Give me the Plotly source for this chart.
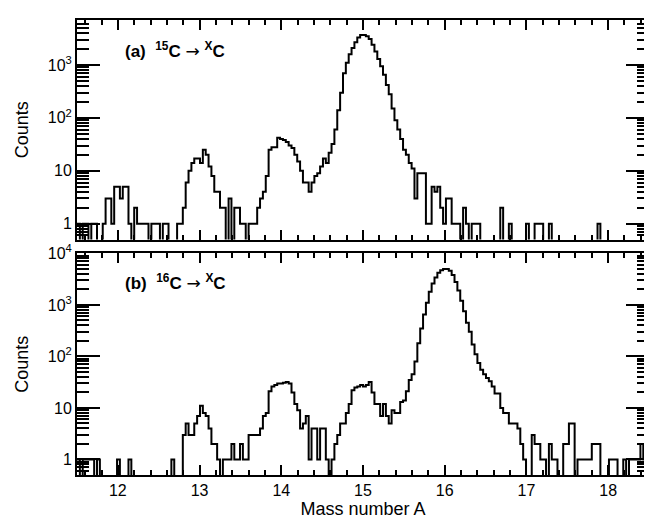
import numpy as np
import plotly.graph_objects as go

# ---- data ----
BIN_START = 11.5
BIN_WIDTH = 0.035

counts_a = [
    1, 0, 1, 1, 0, 1, 1, 0, 0, 1,
    3, 3, 1, 5, 5, 3, 5, 5, 1, 0,
    2, 1, 1, 1, 1, 0, 1, 1, 1, 0,
    1, 1, 0, 0, 0, 1, 1, 2, 6, 10,
    14, 17, 17, 14, 25, 20, 12, 8, 4, 4,
    2, 2, 0, 3, 0, 2, 2, 1, 1, 0,
    1, 1, 1, 2, 3, 4, 8, 25, 28, 28,
    42, 40, 38, 35, 30, 27, 20, 15, 10, 6,
    6, 4, 6, 8, 9, 12, 17, 14, 22, 32,
    60, 140, 300, 700, 1100, 1600, 2100, 2700, 3300, 3700,
    3700, 3500, 3100, 2400, 1800, 1300, 950, 650, 420, 280,
    150, 90, 60, 40, 25, 20, 14, 11, 3, 9,
    9, 9, 1, 1, 5, 4, 5, 2, 1, 3,
    3, 1, 1, 1, 0, 2, 1, 0, 1, 1,
    1, 0, 0, 0, 0, 0, 0, 0, 2, 0,
    0, 1, 0, 0, 0, 0, 0, 1, 0, 0,
    1, 1, 1, 0, 0, 1, 0, 0, 0, 0,
    0, 0, 0, 0, 0, 0, 0, 0, 0, 0,
    0, 0, 1, 0, 0, 0, 0, 0, 0, 0,
    0, 0, 0, 0, 0, 0, 0, 0, 0, 0,
]

counts_b = [
    1, 0, 1, 1, 1, 1, 0, 1, 0, 0,
    0, 0, 0, 0, 1, 0, 0, 0, 1, 0,
    0, 0, 0, 0, 0, 0, 0, 0, 0, 0,
    0, 0, 0, 1, 0, 0, 0, 3, 5, 3,
    3, 5, 7, 11, 8, 7, 4, 2, 2, 1,
    0, 1, 1, 1, 2, 1, 1, 2, 1, 1,
    3, 3, 3, 3, 4, 7, 8, 21, 26, 28,
    30, 30, 31, 32, 30, 20, 12, 9, 4, 5,
    7, 1, 4, 4, 1, 4, 4, 1, 0, 1,
    2, 3, 5, 5, 8, 12, 22, 25, 26, 28,
    26, 28, 32, 20, 12, 12, 7, 12, 7, 5,
    9, 8, 8, 13, 14, 21, 35, 45, 80, 180,
    350, 650, 1100, 1800, 2600, 3400, 4200, 4700, 5000, 5000,
    4600, 3800, 2800, 1900, 1200, 750, 450, 300, 170, 110,
    75, 55, 45, 38, 33, 26, 19, 19, 10, 8,
    8, 5, 5, 5, 4, 2, 1, 0, 0, 3,
    2, 2, 1, 1, 0, 2, 1, 1, 0, 0,
    2, 2, 5, 5, 0, 1, 1, 1, 1, 1,
    2, 2, 2, 0, 0, 0, 1, 1, 1, 0,
    0, 1, 0, 1, 1, 1, 1, 2, 1, 2,
]

x_ticks = [12, 13, 14, 15, 16, 17, 18]
y_ticks_a = [1, 10, 100, 1000]
y_labels_a = ["1", "10", "10<sup>2</sup>", "10<sup>3</sup>"]
y_ticks_b = [1, 10, 100, 1000, 10000]
y_labels_b = ["1", "10", "10<sup>2</sup>", "10<sup>3</sup>", "10<sup>4</sup>"]
ARROW = "<span style='font-family:DejaVu Sans;font-size:17px'>\u2192</span>"
label_a = "<b>(a)  <sup>15</sup>C</b> " + ARROW + " <b><sup>X</sup>C</b>"
label_b = "<b>(b)  <sup>16</sup>C</b> " + ARROW + " <b><sup>X</sup>C</b>"

FONT = "Liberation Sans, Arial, Helvetica, sans-serif"
X_RANGE = [11.5, 18.5]
YR_A = [np.log10(0.5), 3.85]
YR_B = [np.log10(0.5), 4]


def step_xy(counts):
    n = len(counts)
    edges = BIN_START + BIN_WIDTH * np.arange(n + 1)
    vals = [c if c > 0 else 0.01 for c in counts]
    vals = vals + [vals[-1]]
    return edges, vals


fig = go.Figure()
xa, ya = step_xy(counts_a)
xb, yb = step_xy(counts_b)
fig.add_trace(go.Scatter(x=xa, y=ya, mode="lines", line=dict(shape="hv", color="black", width=2),
                         xaxis="x", yaxis="y", showlegend=False, hoverinfo="skip"))
fig.add_trace(go.Scatter(x=xb, y=yb, mode="lines", line=dict(shape="hv", color="black", width=2),
                         xaxis="x2", yaxis="y2", showlegend=False, hoverinfo="skip"))
# invisible traces so mirrored tick axes (top / right) are drawn
for xr, yr in (("x3", "y3"), ("x4", "y4")):
    fig.add_trace(go.Scatter(x=[12], y=[1], mode="markers", marker=dict(opacity=0),
                             xaxis=xr, yaxis=yr, showlegend=False, hoverinfo="skip"))

tick_x = dict(range=X_RANGE, tickmode="array", tickvals=x_ticks, ticks="inside",
              ticklen=10, tickwidth=1.5, tickcolor="black", showgrid=False, zeroline=False,
              minor=dict(dtick=0.2, tick0=0, ticks="inside", ticklen=5, tickwidth=1.5,
                         tickcolor="black", showgrid=False),
              tickfont=dict(family=FONT, size=16, color="black"))
tick_y = dict(type="log", tickmode="array", ticks="inside", ticklen=23, tickwidth=1.5,
              tickcolor="black", showgrid=False, zeroline=False,
              minor=dict(dtick="D1", ticks="inside", ticklen=12, tickwidth=1.5,
                         tickcolor="black", showgrid=False),
              tickfont=dict(family=FONT, size=16, color="black"))
frame = dict(showline=True, linewidth=2, linecolor="black", mirror=True)
ytitle = dict(text="Counts", font=dict(family=FONT, size=18, color="black"), standoff=14)

# page body adds an 8px offset; compensate so the plot area lands where the reference has it
W, H = 644, 514
top_lo = (475 - 236) / 462
bot_hi = (475 - 250) / 462

fig.update_layout(
    width=W, height=H,
    margin=dict(l=69, r=1, t=5, b=47),
    paper_bgcolor="white", plot_bgcolor="white",
    xaxis=dict(tick_x, **frame, domain=[0, 1], anchor="y", showticklabels=False),
    yaxis=dict(tick_y, **frame, domain=[top_lo, 1], anchor="x", tickvals=y_ticks_a,
               ticktext=y_labels_a, range=YR_A, title=ytitle),
    xaxis2=dict(tick_x, **frame, domain=[0, 1], anchor="y2",
                title=dict(text="Mass number A", font=dict(family=FONT, size=18, color="black"),
                           standoff=4)),
    yaxis2=dict(tick_y, **frame, domain=[0, bot_hi], anchor="x2", tickvals=y_ticks_b,
                ticktext=y_labels_b, range=YR_B, title=ytitle),
    # mirrored tick axes
    xaxis3=dict(tick_x, overlaying="x", side="top", anchor="y3", showticklabels=False),
    yaxis3=dict(tick_y, overlaying="y", side="right", anchor="x3", range=YR_A,
                tickvals=y_ticks_a, showticklabels=False),
    xaxis4=dict(tick_x, overlaying="x2", side="top", anchor="y4", showticklabels=False),
    yaxis4=dict(tick_y, overlaying="y2", side="right", anchor="x4", range=YR_B,
                tickvals=y_ticks_b, showticklabels=False),
    annotations=[
        dict(text=label_a, xref="x domain", yref="y domain", x=0.08, y=0.865, xanchor="left",
             yanchor="middle", showarrow=False, font=dict(family=FONT, size=17, color="black")),
        dict(text=label_b, xref="x2 domain", yref="y2 domain", x=0.08, y=0.871, xanchor="left",
             yanchor="middle", showarrow=False, font=dict(family=FONT, size=17, color="black")),
    ],
)

fig.write_html("out.html")
